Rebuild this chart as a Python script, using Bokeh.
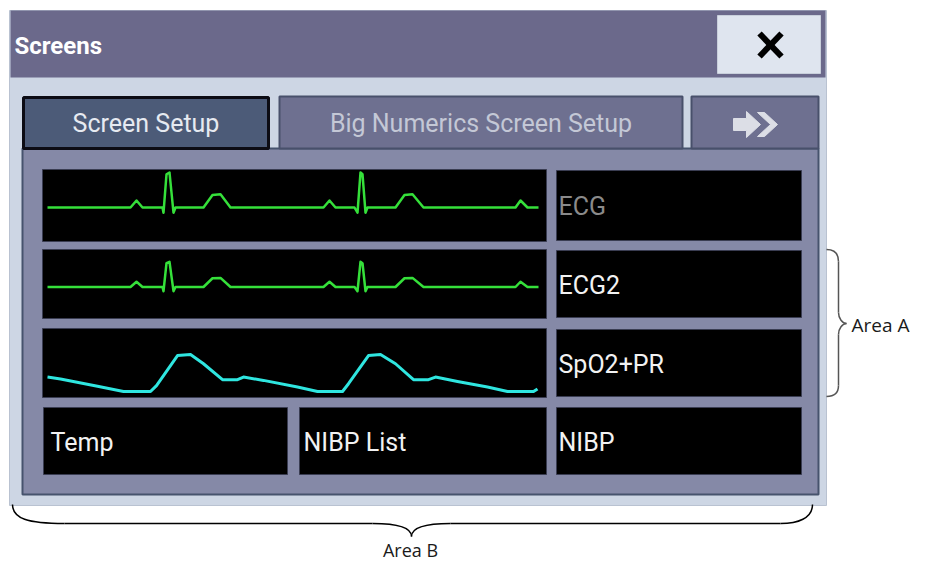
from bokeh.plotting import figure
from bokeh.models import Range1d
from bokeh.core.properties import value
from bokeh.embed import file_html
from bokeh.resources import INLINE

# ---------------- data ----------------
title_text = "Screens"
tab_labels = ["Screen Setup", "Big Numerics Screen Setup"]
wave_labels = ["ECG", "ECG2", "SpO2+PR"]
param_labels = ["Temp", "NIBP List", "NIBP"]
area_labels = ["Area A", "Area B"]

# ECG traces (time in s, amplitude in mV)
ecg_t = [0.00, 0.415, 0.445, 0.475, 0.575, 0.58, 0.595, 0.61, 0.63, 0.64, 0.78, 0.825, 0.865, 0.915,
         1.38, 1.41, 1.44, 1.535, 1.55, 1.565, 1.575, 1.59, 1.60, 1.74, 1.785, 1.825, 1.88,
         2.34, 2.365, 2.40, 2.455]
ecg1_mv = [0, 0, 0.20, 0, 0, -0.15, 0.95, 1.0, -0.15, 0, 0, 0.36, 0.38, 0,
           0, 0.20, 0, 0, -0.15, 1.0, 0.95, -0.15, 0, 0, 0.36, 0.38, 0,
           0, 0.20, 0, 0]
ecg2_mv = [0, 0, 0.15, 0, 0, -0.12, 0.68, 0.72, -0.12, 0, 0, 0.25, 0.26, 0,
           0, 0.15, 0, 0, -0.12, 0.72, 0.68, -0.12, 0, 0, 0.25, 0.26, 0,
           0, 0.15, 0, 0]

# SpO2 plethysmogram (time in s, amplitude in %)
pleth_t = [0.0, 0.065, 0.25, 0.38, 0.515, 0.545, 0.65, 0.715, 0.78, 0.875, 0.95, 0.98, 1.08, 1.25,
           1.35, 1.475, 1.505, 1.605, 1.665, 1.74, 1.83, 1.905, 1.94, 2.05, 2.2, 2.3, 2.43, 2.45]
pleth_amp = [39, 34, 14, 0, 0, 16, 97, 100, 75, 32, 32, 39, 30, 12,
             0, 0, 21, 97, 100, 75, 32, 32, 39, 27, 12, 0, 0, 7]

# ---------------- layout (screen pixels) ----------------
W, H = 912, 565
X0, X1 = 0, 912
YB, YT = 565, 0          # flipped y: pixel rows from the top

FONT = "Roboto"
ANN_FONT = "Open Sans"

p = figure(width=W, height=H, output_backend="svg", toolbar_location=None,
           x_range=Range1d(X0, X1), y_range=Range1d(YB, YT),
           min_border=0, background_fill_color="white", border_fill_color="white")
p.axis.visible = False
p.xgrid.visible = False
p.ygrid.visible = False
p.outline_line_color = None

# waveform scales: time -> x pixels, amplitude -> y pixels
PX_PER_S = 200.0
T0_PX = 47.0
p.extra_x_ranges = {"t": Range1d((X0 - T0_PX) / PX_PER_S, (X1 - T0_PX) / PX_PER_S)}
PX_PER_MV = 35.0
def mv_range(base):
    return Range1d((base - YB) / PX_PER_MV, (base - YT) / PX_PER_MV)
PX_PER_PCT = 0.37
p.extra_y_ranges = {
    "ecg1": mv_range(207.0),
    "ecg2": mv_range(286.5),
    "pleth": Range1d((391.0 - YB) / PX_PER_PCT, (391.0 - YT) / PX_PER_PCT),
}

# dialog frame
p.quad(left=[9], right=[826], top=[10], bottom=[505], fill_color="#cdd6e4", line_color="#b9c2d1", line_width=1)
# title bar
p.quad(left=[10], right=[825], top=[10], bottom=[77], fill_color="#6b698b", line_color=None)
p.text(x=[14], y=[45], text=[title_text], text_font=value(FONT), text_font_style="bold",
       text_font_size="24px", text_color="white", text_baseline="middle", text_align="left")
# close button
p.quad(left=[717], right=[820], top=[15], bottom=[73], fill_color="#dfe5ef", line_color="#c8cfdb", line_width=1)
p.segment(x0=[759, 781], y0=[33, 33], x1=[781, 759], y1=[56, 56], line_color="black", line_width=6)

# content panel
p.quad(left=[22], right=[818], top=[148], bottom=[494], fill_color="#8589a7", line_color="#46536d", line_width=2)

# tabs
p.quad(left=[279], right=[682], top=[96], bottom=[148], fill_color="#6e7090", line_color="#48506b", line_width=2)
p.quad(left=[691], right=[818], top=[96], bottom=[148], fill_color="#6e7090", line_color="#48506b", line_width=2)
p.quad(left=[23], right=[268], top=[97], bottom=[148], fill_color="#4c5b78", line_color="#0c0c14", line_width=3)
p.text(x=[145.5, 480.5], y=[123, 123], text=tab_labels, text_font=value(FONT), text_font_size="25px",
       text_color=["#e6eaf1", "#c4c8d6"], text_baseline="middle", text_align="center")
# arrow icon
p.patch(x=[733, 746, 746, 760, 746, 746, 733], y=[118, 118, 111, 124, 137, 130, 130],
        fill_color="#dcdee6", line_color="#dcdee6", line_width=1)
p.patch(x=[757, 764, 777, 764, 757, 770], y=[112, 112, 124, 136, 136, 124],
        fill_color="#dcdee6", line_color="#dcdee6", line_width=1)

# waveform boxes
wave_rows = [(169, 241), (249, 318), (328, 397)]
p.quad(left=[42] * 3, right=[546] * 3, top=[r[0] for r in wave_rows], bottom=[r[1] for r in wave_rows],
       fill_color="black", line_color="#3a3d52", line_width=1)
p.quad(left=[556] * 3, right=[801] * 3, top=[r[0] + 1 for r in wave_rows], bottom=[r[1] - 1 for r in wave_rows],
       fill_color="black", line_color="#3a3d52", line_width=1)
# bottom row boxes
bot_left = [43, 299, 556]
bot_right = [287, 546, 801]
p.quad(left=bot_left, right=bot_right, top=[407] * 3, bottom=[474] * 3,
       fill_color="black", line_color="#3a3d52", line_width=1)

# labels
p.text(x=[558] * 3, y=[(r[0] + r[1]) / 2 + 1 for r in wave_rows], text=wave_labels, text_font=value(FONT),
       text_font_size="25px", text_color=["#8a8a8a", "#f2f2f2", "#f2f2f2"], text_baseline="middle", text_align="left")
p.text(x=[50, 303, 558], y=[442] * 3, text=param_labels, text_font=value(FONT),
       text_font_size="25px", text_color="#f2f2f2", text_baseline="middle", text_align="left")

# waveforms
p.line(ecg_t, ecg1_mv, x_range_name="t", y_range_name="ecg1", line_color="#35e03a", line_width=2.5, line_join="round")
p.line(ecg_t, ecg2_mv, x_range_name="t", y_range_name="ecg2", line_color="#35e03a", line_width=2.5, line_join="round")
p.line(pleth_t, pleth_amp, x_range_name="t", y_range_name="pleth", line_color="#2fe6e0", line_width=3, line_join="round")

# Area A brace
BR = "#555555"
p.bezier(x0=[826, 838, 846, 838], y0=[249, 312, 323, 385], x1=[838, 846, 838, 826], y1=[261, 323, 334, 396],
         cx0=[834, 838, 842, 838], cy0=[249, 318, 323, 392], cx1=[838, 842, 838, 834], cy1=[253, 323, 328, 396],
         line_color=BR, line_width=1.5)
p.segment(x0=[838, 838], y0=[261, 334], x1=[838, 838], y1=[312, 385], line_color=BR, line_width=1.5)
p.text(x=[851], y=[324], text=[area_labels[0]], text_font=value(ANN_FONT), text_font_size="19px",
       text_color="#1a1a1a", text_baseline="middle", text_align="left")

# Area B brace
p.bezier(x0=[12, 372, 411, 780], y0=[504, 523, 536, 523], x1=[64, 411, 450, 812], y1=[523, 536, 523, 504],
         cx0=[12, 400, 411, 797], cy0=[518, 523, 528, 523], cx1=[27, 411, 422, 812], cy1=[523, 528, 523, 518],
         line_color="black", line_width=1.5)
p.segment(x0=[64, 450], y0=[523, 523], x1=[372, 780], y1=[523, 523], line_color="black", line_width=1.5)
p.text(x=[410], y=[549], text=[area_labels[1]], text_font=value(ANN_FONT), text_font_size="18px",
       text_color="#1a1a1a", text_baseline="middle", text_align="center")

open("out.html", "w").write(file_html(p, INLINE))
